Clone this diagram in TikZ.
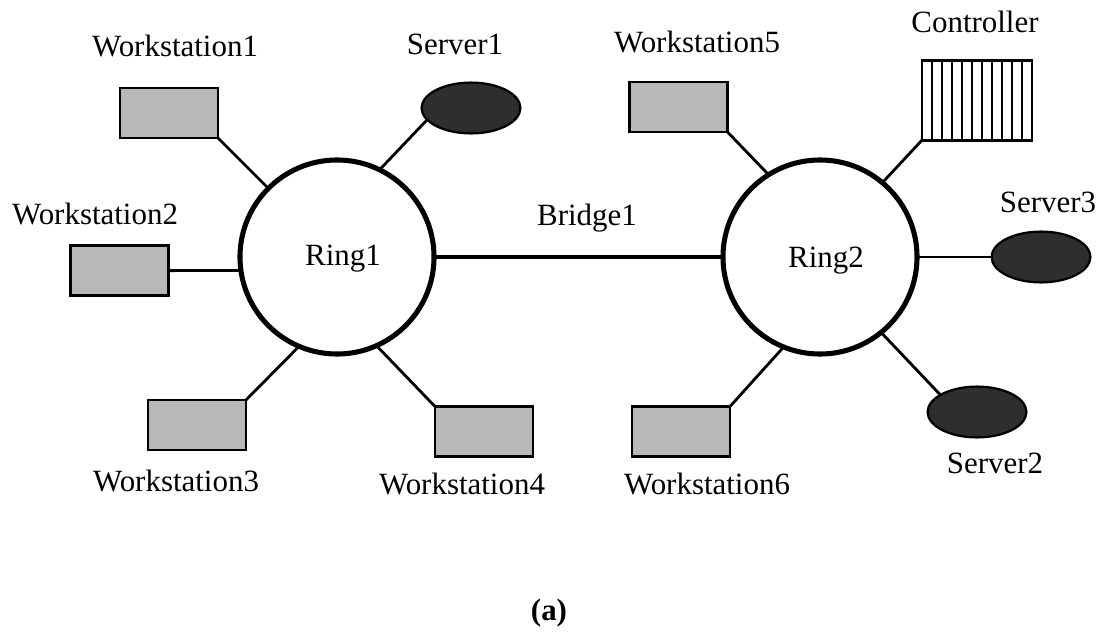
\documentclass[tikz,border=0pt]{standalone}
\usepackage{fontspec}
\setmainfont{Liberation Serif}
\usetikzlibrary{shapes.geometric,calc}
\newcommand{\labelfont}{\fontsize{22}{26}\selectfont}
\begin{document}
\begin{tikzpicture}[x=0.025cm,y=-0.025cm,
  ringnode/.style={circle,draw,line width=3.6pt,minimum size=4.85cm,inner sep=0pt,outer sep=0pt},
  wsbox/.style={rectangle,draw,line width=2pt,fill=black!28,minimum width=2.45cm,minimum height=1.25cm,inner sep=0pt,outer sep=0pt},
  srv/.style={ellipse,draw,line width=1.6pt,fill=black!82,minimum width=2.47cm,minimum height=1.27cm,inner sep=0pt,outer sep=0pt},
  ctrlbox/.style={rectangle,draw,line width=2pt,fill=white,minimum width=2.75cm,minimum height=1.98cm,inner sep=0pt,outer sep=0pt},
  stripe/.style={line width=1.4pt},
  lbl/.style={font=\labelfont,anchor=base,inner sep=0pt},
  link/.style={line width=2pt},
  bridgeline/.style={line width=3.4pt}]
  \useasboundingbox (0,0) rectangle (1109,637);

  % rings
  \node[ringnode] (ring1) at (337,257) {};
  \node[ringnode] (ring2) at (820,257) {};
  \node[lbl] (ring1lbl) at (343,265) {Ring1};
  \node[lbl] (ring2lbl) at (826,267) {Ring2};

  % stations around Ring1
  \node[wsbox] (w1) at (169,113) {};
  \node[wsbox] (w2) at (119.5,270.6) {};
  \node[wsbox] (w3) at (197,425) {};
  \node[wsbox] (w4) at (484,431.5) {};
  \node[srv]   (s1) at (471,108) {};

  % stations around Ring2
  \node[wsbox] (w5) at (678.5,107) {};
  \node[wsbox] (w6) at (681,431.5) {};
  \node[ctrlbox] (ctrl) at (977,100.5) {};
  \node[srv]   (s3) at (1041,257) {};
  \node[srv]   (s2) at (977,412) {};

  % vertical hatching of the controller
  \foreach \i in {1,...,10}{
    \draw[stripe] ($(ctrl.south west)!\i/11!(ctrl.south east)$) -- ($(ctrl.north west)!\i/11!(ctrl.north east)$);
  }

  % labels
  \node[lbl] (w1lbl) at (175,57) {Workstation1};
  \node[lbl] (s1lbl) at (455,55) {Server1};
  \node[lbl] (w2lbl) at (95,224) {Workstation2};
  \node[lbl] (w3lbl) at (176,491) {Workstation3};
  \node[lbl] (w4lbl) at (462,494) {Workstation4};
  \node[lbl] (bridgelbl) at (587,225) {Bridge1};
  \node[lbl] (w5lbl) at (697,53) {Workstation5};
  \node[lbl] (ctrllbl) at (975,33) {Controller};
  \node[lbl] (s3lbl) at (1048,212) {Server3};
  \node[lbl] (w6lbl) at (707,494) {Workstation6};
  \node[lbl] (s2lbl) at (995,473) {Server2};
  \node[lbl,font=\labelfont\bfseries] (caption) at (549,620) {(a)};

  % links to Ring1
  \draw[link] (w1.south east) -- (ring1.135);
  \draw[link] (s1.195) -- (ring1.64);
  \draw[link] (w2.east) -- (ring1.188);
  \draw[link] (w3.north east) -- (ring1.-113);
  \draw[link] (w4.north west) -- (ring1.-66);

  % bridge between the rings
  \draw[bridgeline] (ring1.east) -- (ring2.west);

  % links to Ring2
  \draw[link] (w5.south east) -- (ring2.122);
  \draw[link] (ctrl.south west) -- (ring2.50);
  \draw[link] (ring2.east) -- (s3.west);
  \draw[link] (s2.155) -- (ring2.-51);
  \draw[link] (w6.north east) -- (ring2.-112);
\end{tikzpicture}
\end{document}
